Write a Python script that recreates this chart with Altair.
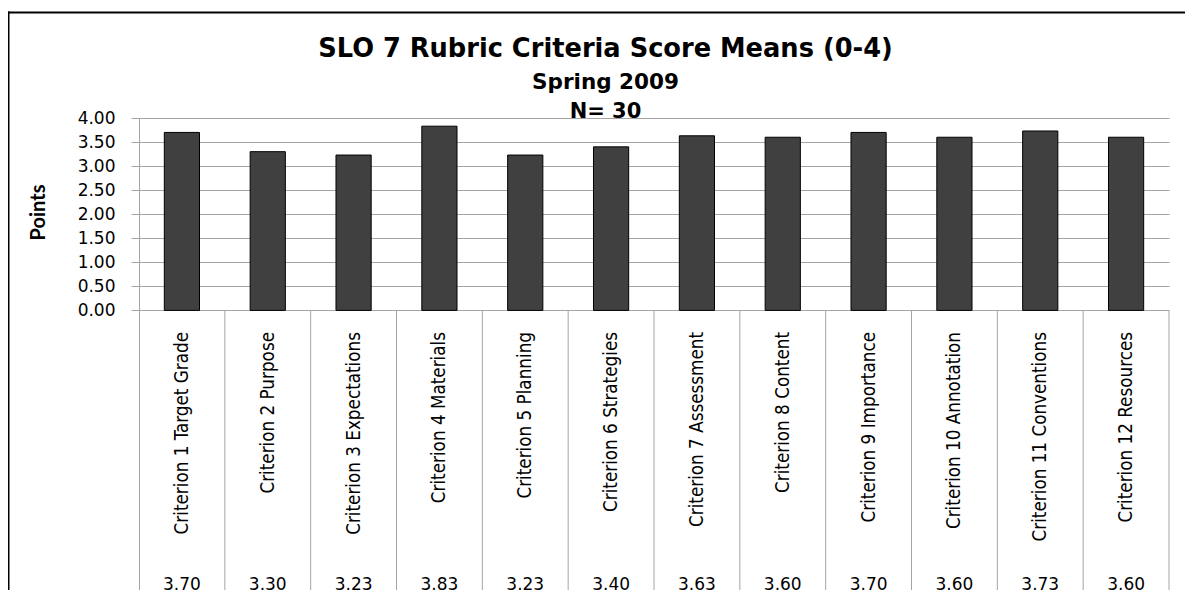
import altair as alt
import pandas as pd

categories = [
    "Criterion 1 Target Grade", "Criterion 2 Purpose", "Criterion 3 Expectations",
    "Criterion 4 Materials", "Criterion 5 Planning", "Criterion 6 Strategies",
    "Criterion 7 Assessment", "Criterion 8 Content", "Criterion 9 Importance",
    "Criterion 10 Annotation", "Criterion 11 Conventions", "Criterion 12 Resources",
]
means = [3.70, 3.30, 3.23, 3.83, 3.23, 3.40, 3.63, 3.60, 3.70, 3.60, 3.73, 3.60]
y_ticks = [0.0, 0.5, 1.0, 1.5, 2.0, 2.5, 3.0, 3.5, 4.0]
title_lines = ["SLO 7 Rubric Criteria Score Means (0-4)", "Spring 2009", "N= 30"]
y_title = "Points"

df = pd.DataFrame({
    "criterion": categories,
    "mean": means,
    "label": [f"{v:.2f}" for v in means],
})

W, H = 1030, 481
Y_MIN = -6.0
GRAY = "#a5a5a5"

x_scale = alt.Scale(paddingInner=0, paddingOuter=0)
x_enc = alt.X("criterion:N", sort=categories, scale=x_scale, axis=None)
y_scale = alt.Scale(domain=[Y_MIN, 4.0], nice=False, zero=False)

base = alt.Chart(df)

bars = base.mark_bar(
    color="#404040", stroke="#000000", strokeWidth=1,
    width=alt.RelativeBandSize(0.41),
).encode(
    x=x_enc,
    y=alt.Y("mean:Q", scale=y_scale, axis=alt.Axis(
        values=y_ticks, format=".2f", title=y_title,
        grid=True, gridColor=GRAY, gridWidth=1,
        domainColor=GRAY, tickColor=GRAY, tickSize=8,
        labelPadding=16, labelFont="DejaVu Sans", labelFontSize=17,
        labelColor="#000000",
        titleFont="Lato", titleFontWeight="bold", titleFontSize=20,
        titleColor="#000000", titleAngle=270, titleX=-101, titleY=94,
        titleAlign="center", titleBaseline="middle",
    )),
    y2=alt.datum(0),
)

seps = base.mark_rule(color=GRAY, strokeWidth=1).encode(
    x=alt.X("criterion:N", sort=categories, scale=x_scale, axis=None, bandPosition=1),
    y=alt.datum(0),
    y2=alt.datum(Y_MIN),
)

cat_text = base.mark_text(
    angle=270, align="right", baseline="middle",
    font="Liberation Sans Narrow, DejaVu Sans Condensed, Lato", fontSize=18.7,
    color="#000000",
).encode(x=x_enc, y=alt.value(214), text="criterion:N")

val_text = base.mark_text(
    align="center", baseline="top",
    font="DejaVu Sans", fontSize=17, color="#000000",
).encode(x=x_enc, y=alt.value(459), text="label:N")

def title_mark(txt, size, ypos):
    return alt.Chart(pd.DataFrame({"t": [txt]})).mark_text(
        align="center", baseline="alphabetic", font="DejaVu Sans",
        fontWeight="bold", fontSize=size, color="#000000",
    ).encode(text="t:N", x=alt.value(466.5), y=alt.value(ypos))

t1 = title_mark(title_lines[0], 25.7, -61)
t2 = title_mark(title_lines[1], 21.5, -29)
t3 = title_mark(title_lines[2], 21, 0)

one = alt.Chart(pd.DataFrame({"k": [0]}))
border_top = one.mark_rule(color="#000000", strokeWidth=2).encode(
    x=alt.value(-132), x2=alt.value(W + 40), y=alt.value(-105.5))
border_left = one.mark_rule(color="#000000", strokeWidth=2).encode(
    x=alt.value(-130.5), y=alt.value(-106.5), y2=alt.value(H + 20))

chart = alt.layer(
    seps, bars, cat_text, val_text, t1, t2, t3, border_top, border_left,
).properties(
    width=W, height=H,
    autosize=alt.AutoSizeParams(type="none"),
    padding={"left": 131, "top": 110, "right": 16, "bottom": 0},
    background="#ffffff",
).configure_view(stroke=None)

chart.save("out.html", embed_options={"renderer": "svg", "actions": False})
